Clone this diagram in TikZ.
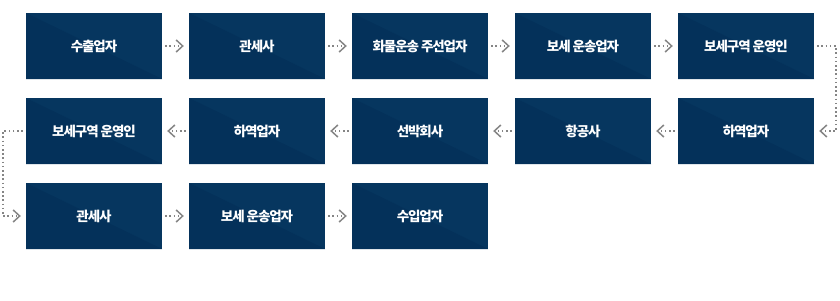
\documentclass[tikz,border=0pt]{standalone}
\usepackage{fontspec}
\newfontfamily\krfont[LetterSpace=-8]{Noto Sans CJK KR}
\usetikzlibrary{arrows.meta}
\definecolor{boxnavy}{HTML}{06365F}
\definecolor{boxdark}{HTML}{04315A}
\definecolor{linkgray}{HTML}{858585}
\tikzset{
  party/.style={shape=rectangle, fill=boxnavy, minimum width=136pt, minimum height=66pt, inner sep=0pt,
    text=white, font=\krfont\bfseries\fontsize{13.5}{15}\selectfont,
    path picture={\fill[boxdark] (path picture bounding box.north west) -- (path picture bounding box.south east) -- (path picture bounding box.south west) -- cycle;}},
  link/.style={draw=linkgray, line width=1.6pt, dash pattern=on 1.6pt off 2.6pt,
    shorten <=3pt, shorten >=5pt,
    -{Straight Barb[length=6.5pt,width=12pt,line width=1.5pt]}}
}
\begin{document}
\begin{tikzpicture}[x=1pt, y=-1pt]
\useasboundingbox (0,0) rectangle (840,300);
\node [party] (A1) at (94,46) {수출업자};
\node [party] (A2) at (257,46) {관세사};
\node [party] (A3) at (420,46) {화물운송 주선업자};
\node [party] (A4) at (583,46) {보세 운송업자};
\node [party] (A5) at (746,46) {보세구역 운영인};
\node [party] (B1) at (746,131) {하역업자};
\node [party] (B2) at (583,131) {항공사};
\node [party] (B3) at (420,131) {선박회사};
\node [party] (B4) at (257,131) {하역업자};
\node [party] (B5) at (94,131) {보세구역 운영인};
\node [party] (C1) at (94,216) {관세사};
\node [party] (C2) at (257,216) {보세 운송업자};
\node [party] (C3) at (420,216) {수입업자};

\coordinate (R1) at (836,46);
\coordinate (R2) at (836,131);
\coordinate (L1) at (3,131);
\coordinate (L2) at (3,216);

\path [link] (A1) -- (A2);
\path [link] (A2) -- (A3);
\path [link] (A3) -- (A4);
\path [link] (A4) -- (A5);
\path [link] (A5.east) -- (R1) -- (R2) -- (B1.east);
\path [link] (B1) -- (B2);
\path [link] (B2) -- (B3);
\path [link] (B3) -- (B4);
\path [link] (B4) -- (B5);
\path [link] (B5.west) -- (L1) -- (L2) -- (C1.west);
\path [link] (C1) -- (C2);
\path [link] (C2) -- (C3);
\end{tikzpicture}
\end{document}
